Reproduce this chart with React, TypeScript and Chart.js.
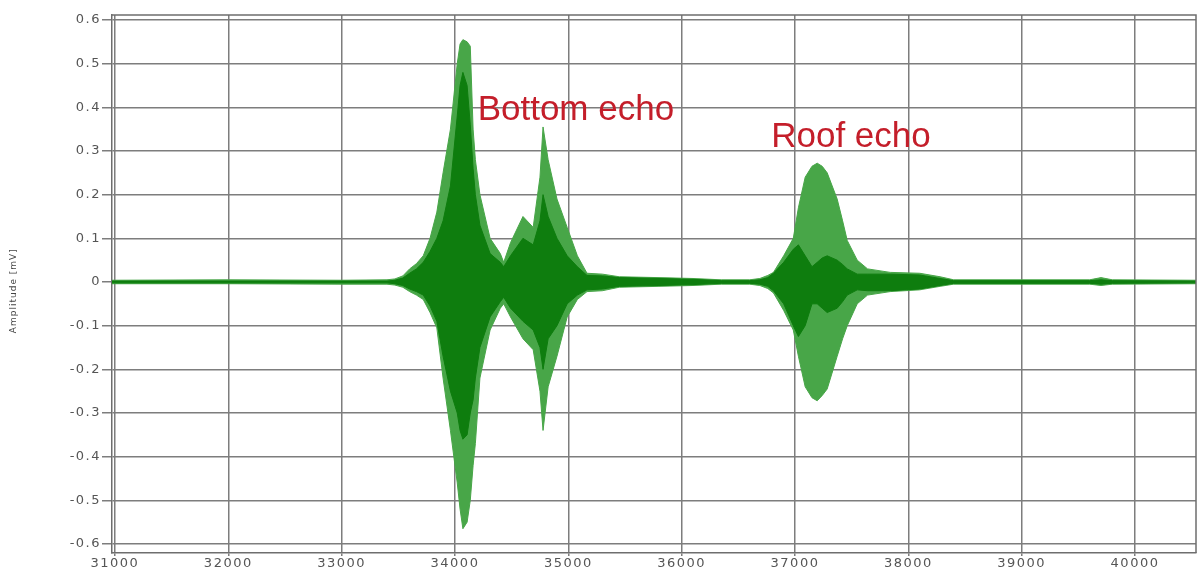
import React, { useEffect, useRef } from 'react';
import { Chart, registerables } from 'chart.js';

Chart.register(...registerables);

// Time samples (x axis units) and envelope amplitudes [mV]
const timeSamples = [
  30974, 32000, 33000, 33400, 33470, 33540, 33600, 33660, 33720, 33780, 33840, 33895, 33960,
  34020, 34045, 34070, 34107, 34135, 34160, 34180, 34220, 34310, 34400, 34430, 34490, 34600,
  34690, 34750, 34777, 34822, 34900, 34990, 35080, 35165, 35300, 35450, 35800, 36100, 36350,
  36600, 36690, 36760, 36810, 36900, 36985, 37030, 37090, 37150, 37196, 37240, 37284, 37372,
  37420, 37461, 37549, 37640, 37840, 38100, 38280, 38400, 39600, 39700, 39800, 40538,
];
const outerUpper = [
  0.004, 0.005, 0.004, 0.005, 0.007, 0.014, 0.03, 0.042, 0.06, 0.1, 0.16, 0.25, 0.35,
  0.5, 0.545, 0.555, 0.55, 0.54, 0.35, 0.28, 0.2, 0.1, 0.065, 0.045, 0.09, 0.15,
  0.125, 0.24, 0.355, 0.28, 0.19, 0.125, 0.06, 0.02, 0.018, 0.012, 0.01, 0.008, 0.005,
  0.005, 0.008, 0.015, 0.022, 0.06, 0.1, 0.17, 0.24, 0.265, 0.272, 0.265, 0.25, 0.19,
  0.14, 0.095, 0.05, 0.03, 0.022, 0.02, 0.012, 0.005, 0.005, 0.01, 0.005, 0.004,
];
const outerLower = [
  -0.004, -0.004, -0.005, -0.005, -0.007, -0.012, -0.022, -0.03, -0.04, -0.07, -0.105, -0.22, -0.34,
  -0.46, -0.52, -0.565, -0.55, -0.5, -0.42, -0.37, -0.22, -0.11, -0.06, -0.05, -0.08, -0.13,
  -0.155, -0.25, -0.34, -0.24, -0.17, -0.08, -0.04, -0.022, -0.02, -0.012, -0.01, -0.008, -0.005,
  -0.005, -0.008, -0.015, -0.025, -0.065, -0.11, -0.17, -0.24, -0.265, -0.272, -0.26, -0.245, -0.17,
  -0.13, -0.1, -0.05, -0.03, -0.022, -0.018, -0.01, -0.005, -0.005, -0.008, -0.005, -0.004,
];
const innerUpper = [
  0.002, 0.002, 0.002, 0.002, 0.004, 0.009, 0.02, 0.03, 0.045, 0.07, 0.1, 0.14, 0.22,
  0.38, 0.45, 0.48, 0.45, 0.36, 0.26, 0.2, 0.13, 0.065, 0.045, 0.035, 0.06, 0.1,
  0.085, 0.14, 0.2, 0.15, 0.1, 0.06, 0.035, 0.015, 0.014, 0.01, 0.008, 0.006, 0.003,
  0.003, 0.005, 0.01, 0.02, 0.045, 0.075, 0.085, 0.06, 0.035, 0.045, 0.055, 0.06, 0.05,
  0.04, 0.03, 0.018, 0.018, 0.018, 0.016, 0.008, 0.003, 0.003, 0.005, 0.003, 0.002,
];
const innerLower = [
  -0.002, -0.002, -0.002, -0.002, -0.004, -0.008, -0.016, -0.022, -0.03, -0.055, -0.09, -0.17, -0.25,
  -0.3, -0.34, -0.36, -0.35, -0.3, -0.27, -0.22, -0.15, -0.08, -0.045, -0.035, -0.06, -0.09,
  -0.11, -0.15, -0.2, -0.13, -0.1, -0.05, -0.03, -0.018, -0.016, -0.01, -0.008, -0.006, -0.003,
  -0.003, -0.005, -0.01, -0.02, -0.05, -0.1, -0.125, -0.1, -0.05, -0.05, -0.06, -0.07, -0.06,
  -0.045, -0.03, -0.018, -0.02, -0.02, -0.016, -0.008, -0.003, -0.003, -0.005, -0.003, -0.002,
];

const xTickValues = [31000, 32000, 33000, 34000, 35000, 36000, 37000, 38000, 39000, 40000];
const xTickLabels = ['31000', '32000', '33000', '34000', '35000', '36000', '37000', '38000', '39000', '40000'];
const yTickValues = [0.6, 0.5, 0.4, 0.3, 0.2, 0.1, 0, -0.1, -0.2, -0.3, -0.4, -0.5, -0.6];
const yTickLabels = ['0.6', '0.5', '0.4', '0.3', '0.2', '0.1', '0', '-0.1', '-0.2', '-0.3', '-0.4', '-0.5', '-0.6'];

const yAxisTitle = 'Amplitude [mV]';
const annotationTexts = ['Bottom echo', 'Roof echo'];
const annotationX = [34200, 36790];
const annotationY = [0.371, 0.309];

const X_MIN = 30974;
const X_MAX = 40538;
const Y_MIN = -0.6206;
const Y_MAX = 0.6114;

const DARK = '#0e7d0e';
const LIGHT = '#48a648';
const GRID = '#7d7d7d';

function pts(ys: number[]) {
  return timeSamples.map((x, i) => ({ x, y: ys[i] }));
}

function labelFrom(values: number[], labels: string[], v: number) {
  const i = values.findIndex((t) => Math.abs(t - v) < 1e-9);
  return i >= 0 ? labels[i] : '';
}

const decorPlugin = {
  id: 'decor',
  beforeDraw(chart: any) {
    const ctx = chart.ctx;
    ctx.save();
    ctx.fillStyle = '#ffffff';
    ctx.fillRect(0, 0, chart.width, chart.height);
    ctx.restore();
    ctx.letterSpacing = '1.5px';
  },
  afterDraw(chart: any) {
    const ctx = chart.ctx;
    const { left, right, top, bottom } = chart.chartArea;
    ctx.save();
    ctx.letterSpacing = '0px';
    ctx.strokeStyle = '#6e6e6e';
    ctx.lineWidth = 1.5;
    ctx.beginPath();
    ctx.moveTo(left, top);
    ctx.lineTo(right, top);
    ctx.lineTo(right, bottom);
    ctx.stroke();
    // y axis title
    ctx.letterSpacing = '1px';
    ctx.fillStyle = '#444';
    ctx.font = '9px "DejaVu Sans"';
    ctx.textAlign = 'center';
    ctx.textBaseline = 'middle';
    ctx.translate(14, chart.scales.y.getPixelForValue(-0.02));
    ctx.rotate(-Math.PI / 2);
    ctx.fillText(yAxisTitle, 0, 0);
    ctx.restore();

    // annotations
    ctx.save();
    ctx.letterSpacing = '0px';
    ctx.fillStyle = '#c41e2a';
    ctx.font = '35px "Liberation Sans", Arial, sans-serif';
    ctx.textAlign = 'left';
    ctx.textBaseline = 'alphabetic';
    annotationTexts.forEach((t, i) => {
      const px = chart.scales.x.getPixelForValue(annotationX[i]);
      const py = chart.scales.y.getPixelForValue(annotationY[i]);
      ctx.fillText(t, px, py);
    });
    ctx.restore();
  },
};

export default function App() {
  const ref = useRef<HTMLCanvasElement | null>(null);

  useEffect(() => {
    if (!ref.current) return;
    const tickFont = { family: 'DejaVu Sans', size: 13 };
    const chart = new Chart(ref.current, {
      type: 'line',
      data: {
        datasets: [
          { label: 'inner upper', data: pts(innerUpper), borderColor: DARK, backgroundColor: DARK, borderWidth: 1, pointRadius: 0, fill: '+1', tension: 0 },
          { label: 'inner lower', data: pts(innerLower), borderColor: DARK, backgroundColor: DARK, borderWidth: 1, pointRadius: 0, fill: false, tension: 0 },
          { label: 'outer upper', data: pts(outerUpper), borderColor: LIGHT, backgroundColor: LIGHT, borderWidth: 1, pointRadius: 0, fill: '+1', tension: 0 },
          { label: 'outer lower', data: pts(outerLower), borderColor: LIGHT, backgroundColor: LIGHT, borderWidth: 1, pointRadius: 0, fill: false, tension: 0 },
        ],
      },
      options: {
        responsive: false,
        animation: false,
        devicePixelRatio: 1,
        layout: { padding: { top: 15, right: 5, left: 0, bottom: 0 } },
        plugins: { legend: { display: false }, tooltip: { enabled: false }, title: { display: false } },
        scales: {
          x: {
            type: 'linear',
            min: X_MIN,
            max: X_MAX,
            afterBuildTicks: (s: any) => { s.ticks = xTickValues.map((v) => ({ value: v })); },
            afterFit: (s: any) => { s.height = 16; },
            ticks: {
              autoSkip: false,
              maxRotation: 0,
              padding: 0,
              color: '#555',
              font: tickFont,
              callback: (v: any) => labelFrom(xTickValues, xTickLabels, Number(v)),
            },
            grid: { color: GRID, lineWidth: 1.5, tickLength: 3 },
            border: { display: true, color: '#6e6e6e', width: 1.5 },
          },
          y: {
            type: 'linear',
            min: Y_MIN,
            max: Y_MAX,
            afterBuildTicks: (s: any) => { s.ticks = yTickValues.map((v) => ({ value: v })); },
            afterFit: (s: any) => { s.width = 112; },
            ticks: {
              autoSkip: false,
              padding: 1,
              color: '#555',
              font: tickFont,
              callback: (v: any) => labelFrom(yTickValues, yTickLabels, Number(v)),
            },
            grid: { color: GRID, lineWidth: 1.5, tickLength: 10 },
            border: { display: true, color: '#6e6e6e', width: 1.5 },
          },
        },
      },
      plugins: [decorPlugin],
    } as any);
    return () => chart.destroy();
  }, []);

  return (
    <div style={{ position: 'absolute', left: 0, top: 0, width: 1201, height: 569, background: '#fff' }}>
      <canvas ref={ref} width={1201} height={569} />
    </div>
  );
}
